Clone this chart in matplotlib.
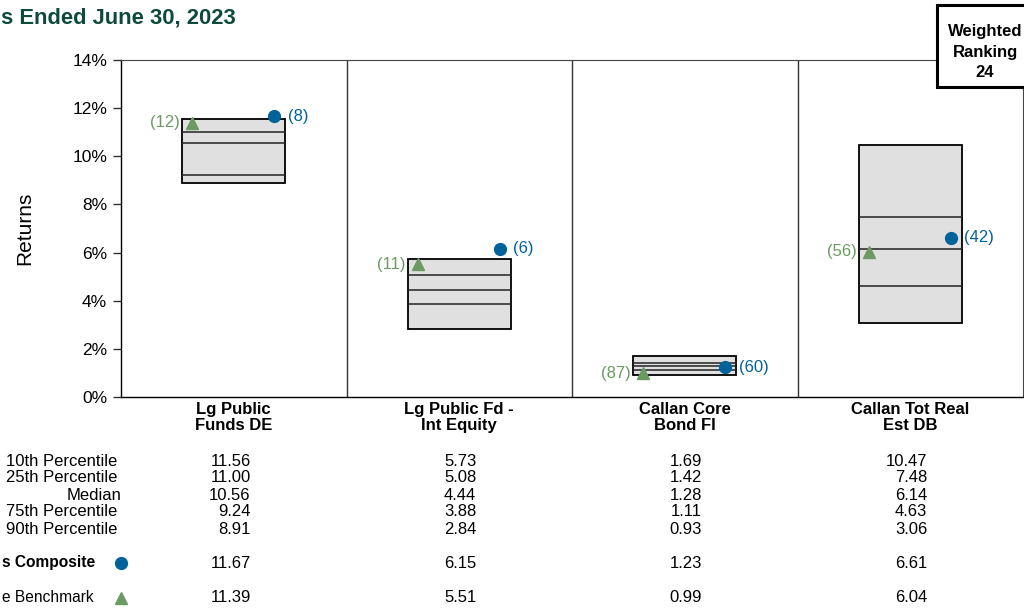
import matplotlib
matplotlib.use("Agg")
import matplotlib.pyplot as plt
from matplotlib.patches import Rectangle
import matplotlib.transforms as mtransforms

plt.rcParams['font.family'] = ['Liberation Sans', 'DejaVu Sans']

# ---- data ----
categories = ["Lg Public\nFunds DE", "Lg Public Fd -\nInt Equity", "Callan Core\nBond FI", "Callan Tot Real\nEst DB"]
p10 = [11.56, 5.73, 1.69, 10.47]
p25 = [11.00, 5.08, 1.42, 7.48]
median = [10.56, 4.44, 1.28, 6.14]
p75 = [9.24, 3.88, 1.11, 4.63]
p90 = [8.91, 2.84, 0.93, 3.06]
composite = [11.67, 6.15, 1.23, 6.61]
composite_rank = [8, 6, 60, 42]
benchmark = [11.39, 5.51, 0.99, 6.04]
benchmark_rank = [12, 11, 87, 56]
row_labels = ["10th Percentile", "25th Percentile", "Median", "75th Percentile", "90th Percentile"]
yticks = [0, 2, 4, 6, 8, 10, 12, 14]
ytick_labels = ["0%", "2%", "4%", "6%", "8%", "10%", "12%", "14%"]
title_text = "s Ended June 30, 2023"
composite_label = "s Composite"
benchmark_label = "e Benchmark"
weighted_text = "Weighted\nRanking\n24"

BLUE = "#00629b"
GREEN = "#6b9b63"
TITLE_C = "#0d4a3c"
W, H = 1024, 609

fig = plt.figure(figsize=(W / 100, H / 100), dpi=100)
ax = fig.add_axes([121 / W, (H - 397) / H, (1023 - 121) / W, 337 / H])
ax.set_xlim(0, 4)
ax.set_ylim(0, 14)

bw = 0.457
n = len(categories)
xs = [i + 0.5 for i in range(n)]

ax.bar(xs, [a - b for a, b in zip(p10, p90)], bottom=p90, width=bw,
       color="#e0e0e0", edgecolor="black", linewidth=1.3, zorder=2)
for vals in (p25, median, p75):
    for x, v in zip(xs, vals):
        ax.hlines(v, x - bw / 2, x + bw / 2, color="#222222", linewidth=1.1, zorder=3)

cx = [x + bw / 2 - 0.05 for x in xs]
tx = [x - bw / 2 + 0.045 for x in xs]
ax.plot(cx, composite, 'o', color=BLUE, markersize=8.5, linestyle='none', zorder=5)
ax.plot(tx, benchmark, '^', color=GREEN, markersize=8.5, linestyle='none', zorder=5)
for x, v, r in zip(cx, composite, composite_rank):
    ax.annotate(f"({r})", (x, v), xytext=(10, 0), textcoords='offset points',
                ha='left', va='center', color=BLUE, fontsize=12)
for x, v, r in zip(tx, benchmark, benchmark_rank):
    ax.annotate(f"({r})", (x, v), xytext=(-9, 0), textcoords='offset points',
                ha='right', va='center', color=GREEN, fontsize=12)

for k in range(1, n):
    ax.axvline(k, color="#333333", linewidth=1.0, zorder=1)

ax.set_yticks(yticks)
ax.set_yticklabels(ytick_labels, fontsize=12.5)
ax.set_xticks([])
ax.tick_params(axis='y', length=6, width=1, pad=4, color="#333333")
for s in ("left", "bottom"):
    ax.spines[s].set_color("black")
    ax.spines[s].set_linewidth(1.0)
ax.spines["top"].set_color("#444444")
ax.spines["right"].set_color("#444444")
ax.set_ylabel("Returns", fontsize=15, labelpad=27)

# category labels and table
tr = mtransforms.blended_transform_factory(ax.transData, fig.transFigure)
def fy(py):
    return (H - py) / H

for x, c in zip(xs, categories):
    ax.text(x, fy(402), c, transform=tr, ha='center', va='top', fontsize=12,
            fontweight='bold', linespacing=1.1)

row_y = [461, 478, 495, 512, 529]
cols = [p10, p25, median, p75, p90]
for lab, py, vals in zip(row_labels, row_y, cols):
    fig.text((121 if lab == "Median" else 117) / W, fy(py), lab, ha='right', va='center', fontsize=12)
    for x, v in zip(xs, vals):
        ax.text(x + 0.075, fy(py), f"{v:.2f}", transform=tr, ha='right', va='center', fontsize=12)

fig.text(2 / W, fy(563), composite_label, ha='left', va='center', fontsize=11.2, fontweight='bold')
fig.text(2 / W, fy(598), benchmark_label, ha='left', va='center', fontsize=11.2)
ax.plot([0], [fy(563)], 'o', color=BLUE, markersize=8.5, transform=tr, clip_on=False)
ax.plot([0], [fy(598)], '^', color=GREEN, markersize=8.5, transform=tr, clip_on=False)
for x, v in zip(xs, composite):
    ax.text(x + 0.075, fy(563), f"{v:.2f}", transform=tr, ha='right', va='center', fontsize=12)
for x, v in zip(xs, benchmark):
    ax.text(x + 0.075, fy(598), f"{v:.2f}", transform=tr, ha='right', va='center', fontsize=12)

# title
fig.text(1 / W, fy(18), title_text, ha='left', va='center', fontsize=15.8,
         fontweight='bold', color=TITLE_C)

# weighted ranking box
fig.patches.append(Rectangle((937 / W, fy(87)), 100 / W, 82 / H, transform=fig.transFigure,
                             facecolor='white', edgecolor='black', linewidth=2.2, zorder=10))
fig.text(985 / W, fy(52), weighted_text, ha='center', va='center', fontsize=12,
         fontweight='bold', linespacing=1.45, zorder=11)

fig.savefig("out.png", dpi=100)
